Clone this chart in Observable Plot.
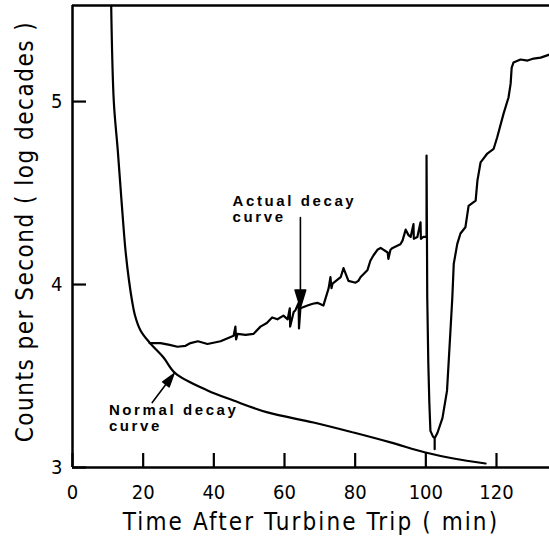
<!DOCTYPE html>
<html><head><meta charset="utf-8">
<script src="https://cdn.jsdelivr.net/npm/d3@7"></script>
<script src="https://cdn.jsdelivr.net/npm/@observablehq/plot@0.6"></script>
<style>
html,body{margin:0;padding:0;background:#fff;}
</style>
</head><body><div id="chart"></div>
<script>
// ---- data ----
const xTicks = [0, 20, 40, 60, 80, 100, 120];
const yTicks = [3, 4, 5];
const xLabel = "Time After Turbine Trip ( min)";
const yLabel = "Counts per Second ( log decades )";

// Normal decay curve (time in min, log decades)
const normalT = [10.95, 11.69, 12.82, 13.87, 15.0, 15.99, 16.84, 17.69, 19.25, 21.79, 25.76, 29.15, 38.21, 45.57, 55.19, 68.21, 79.54, 90.01, 99.92, 107.84, 116.9];
const normalV = [5.525, 5.0, 4.732, 4.459, 4.186, 4.022, 3.913, 3.831, 3.749, 3.683, 3.601, 3.514, 3.421, 3.366, 3.301, 3.246, 3.191, 3.137, 3.082, 3.049, 3.022];

// Actual decay curve (time in min, log decades)
const actualT = [21.8, 24.9, 27.5, 29.7, 32.0, 33.4, 35.5, 38.2, 41.9, 45.6, 46.1, 46.3, 46.7, 49.0, 51.2, 53.2, 55.0, 56.5, 58.0, 59.7, 60.9, 61.5, 61.6, 62.6, 63.1, 64.0, 64.1, 64.5, 66.5, 68.0, 69.3, 71.0, 72.5, 73.0, 73.3, 73.6, 75.9, 76.7, 78.1, 80.1, 80.9, 81.5, 83.5, 84.3, 85.2, 86.3, 87.2, 89.2, 89.4, 90.0, 90.6, 92.8, 93.4, 94.3, 95.1, 95.7, 96.5, 96.6, 97.6, 98.5, 98.6, 99.3, 100.2, 100.2, 100.4, 100.7, 101.0, 101.3, 102.0, 102.5, 102.5, 102.5, 103.3, 104.7, 106.0, 106.7, 107.5, 107.9, 108.9, 109.8, 111.2, 112.1, 114.1, 114.6, 115.5, 117.4, 119.2, 120.2, 122.0, 123.4, 124.0, 124.3, 124.8, 126.8, 128.8, 130.5, 132.5, 135.0];
const actualV = [3.68, 3.68, 3.67, 3.66, 3.665, 3.68, 3.69, 3.675, 3.69, 3.72, 3.77, 3.70, 3.73, 3.725, 3.73, 3.77, 3.79, 3.82, 3.81, 3.83, 3.81, 3.87, 3.77, 3.85, 3.86, 3.90, 3.76, 3.87, 3.885, 3.895, 3.90, 3.885, 3.98, 4.04, 3.98, 4.005, 4.04, 4.09, 4.02, 4.01, 4.02, 4.04, 4.08, 4.13, 4.16, 4.19, 4.20, 4.175, 4.14, 4.19, 4.20, 4.22, 4.24, 4.30, 4.27, 4.26, 4.33, 4.25, 4.26, 4.34, 4.25, 4.26, 4.26, 4.705, 3.93, 3.57, 3.35, 3.20, 3.17, 3.16, 3.10, 3.16, 3.19, 3.27, 3.42, 3.657, 3.93, 4.113, 4.222, 4.279, 4.313, 4.43, 4.459, 4.568, 4.668, 4.716, 4.742, 4.805, 4.934, 5.022, 5.098, 5.186, 5.213, 5.23, 5.224, 5.235, 5.24, 5.257];

// Annotations
const noteText = ["Actual decay\ncurve", "Normal decay\ncurve"];
const noteT = [45.3, 10.3];
const noteV = [4.49, 3.346];
const arrowTipT = [64.5, 28.7];
const arrowTipV = [3.874, 3.512];

const xDomain = [0, 135];
const yDomain = [3, 5.525];

const normal = normalT.map((t, i) => ({t, v: normalV[i]}));
const actual = actualT.map((t, i) => ({t, v: actualV[i]}));
const notes = noteText.map((s, i) => ({s, t: noteT[i], v: noteV[i]}));
const tips = arrowTipT.map((t, i) => ({t, v: arrowTipV[i]}));

const arrowShape = {
  draw(context, l, r) {
    context.moveTo(0, 0);
    context.lineTo(0, -l);
    context.moveTo(0, 0);
    context.lineTo(-r, -3.3 * r);
    context.lineTo(r, -3.3 * r);
    context.closePath();
  }
};

const font = "'DejaVu Sans Condensed', 'DejaVu Sans', sans-serif";

const chart = Plot.plot({
  width: 549,
  height: 540,
  marginLeft: 72,
  marginRight: 0,
  marginTop: 5,
  marginBottom: 73,
  style: {fontFamily: font, background: "#fff", color: "#000", overflow: "visible"},
  x: {domain: xDomain},
  y: {domain: yDomain},
  marks: [
    Plot.ruleY([yDomain[0], yDomain[1]], {strokeWidth: 2.5}),
    Plot.ruleX([xDomain[0]], {strokeWidth: 2.5}),
    Plot.axisX({ticks: xTicks, tickSize: -14, tickPadding: 30.8, strokeWidth: 2.2, fontSize: 20, label: null, tickFormat: d => String(d)}),
    Plot.axisY({ticks: yTicks, tickSize: -14, tickPadding: 24, strokeWidth: 2.2, fontSize: 20, label: null, tickFormat: d => String(d)}),
    Plot.text([xLabel], {text: d => d, frameAnchor: "bottom", textAnchor: "middle", dy: 55, fontSize: 24, lineAnchor: "middle"}),
    Plot.text([yLabel], {text: d => d, frameAnchor: "left", textAnchor: "middle", rotate: -90, dx: -47, dy: -5, fontSize: 24, lineAnchor: "middle"}),
    Plot.line(normal, {x: "t", y: "v", strokeWidth: 2.2, curve: "catmull-rom", clip: true}),
    Plot.line(actual, {x: "t", y: "v", strokeWidth: 2.2, strokeLinejoin: "round", clip: true}),
    Plot.vector([tips[0]], {x: "t", y: "v", anchor: "start", length: 90, rotate: 0, r: 5.3, shape: arrowShape, fill: "#000", stroke: "#000", strokeWidth: 1.6}),
    Plot.vector([tips[1]], {x: "t", y: "v", anchor: "start", length: 36, rotate: 217, r: 4, shape: arrowShape, fill: "#000", stroke: "#000", strokeWidth: 1.6}),
    Plot.text(notes, {x: "t", y: "v", text: "s", textAnchor: "start", lineAnchor: "top", lineHeight: 1.05, fontSize: 15, fontWeight: "bold", fontFamily: "'Liberation Sans', Arial, sans-serif"})
  ]
});

d3.select(chart).selectAll("text").each(function() {
  const s = this.textContent;
  if (/decay/.test(s) && !/log/.test(s)) d3.select(this).attr("letter-spacing", "2.6");
  else if (s === xLabel) d3.select(this).attr("letter-spacing", "2.1");
  else if (s === yLabel) d3.select(this).attr("letter-spacing", "1.5");
});

document.getElementById("chart").appendChild(chart);
</script>
</body></html>
